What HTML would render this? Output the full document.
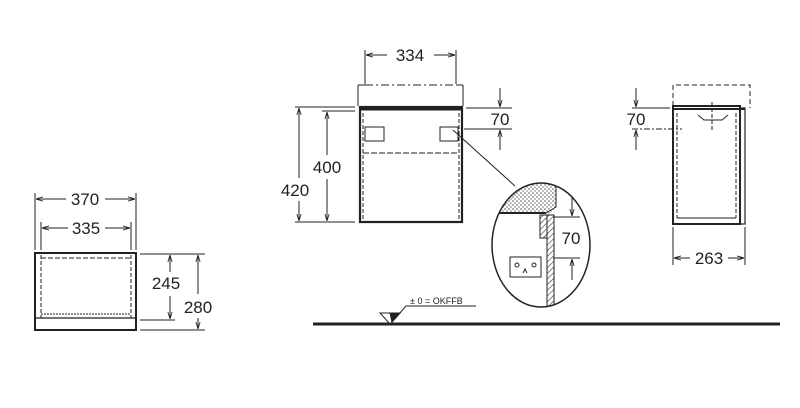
<!DOCTYPE html><html><head><style>body{margin:0;background:#fff}svg{display:block}text{font-family:"Liberation Sans",sans-serif;fill:#222}</style></head><body>
<svg width="800" height="408" viewBox="0 0 800 408" xmlns="http://www.w3.org/2000/svg">
<defs>
<marker id="a" viewBox="0 0 10 10" refX="10" refY="5" markerWidth="7" markerHeight="7" orient="auto-start-reverse"><path d="M0,2L10,5L0,8" fill="none" stroke="#222" stroke-width="1.2"/></marker>
<pattern id="dots" width="4" height="4" patternUnits="userSpaceOnUse"><rect width="4" height="4" fill="#fff"/><circle cx="1" cy="1" r="0.8" fill="#555"/><circle cx="3" cy="3" r="0.8" fill="#777"/></pattern>
<pattern id="hatch" width="4" height="4" patternUnits="userSpaceOnUse" patternTransform="rotate(45)"><rect width="4" height="4" fill="#fff"/><line x1="0" y1="0" x2="0" y2="4" stroke="#333" stroke-width="1.2"/></pattern>
<clipPath id="c"><ellipse cx="541" cy="245" rx="49" ry="62"/></clipPath>
</defs>
<g stroke="#222" fill="none" stroke-width="1">
<rect x="35" y="253" width="101" height="77" stroke-width="2"/>
<line x1="35" y1="318" x2="136" y2="318" stroke-width="1.2"/>
<line x1="41" y1="255" x2="41" y2="318" stroke-dasharray="4,2"/>
<line x1="131" y1="255" x2="131" y2="318" stroke-dasharray="4,2"/>
<line x1="41" y1="258" x2="131" y2="258" stroke-dasharray="5,2"/>
<line x1="41" y1="314" x2="131" y2="314" stroke-dasharray="2,1"/>
<line x1="35" y1="193" x2="35" y2="250"/><line x1="136" y1="193" x2="136" y2="250"/>
<line x1="41" y1="222" x2="41" y2="250"/><line x1="131" y1="222" x2="131" y2="250"/>
<line x1="36" y1="199" x2="66" y2="199" marker-start="url(#a)"/><line x1="105" y1="199" x2="135" y2="199" marker-end="url(#a)"/>
<line x1="42" y1="228" x2="68" y2="228" marker-start="url(#a)"/><line x1="105" y1="228" x2="130" y2="228" marker-end="url(#a)"/>
<line x1="140" y1="254" x2="205" y2="254"/><line x1="140" y1="320" x2="175" y2="320"/><line x1="140" y1="330" x2="205" y2="330"/>
<line x1="170" y1="255" x2="170" y2="272" marker-start="url(#a)"/><line x1="170" y1="296" x2="170" y2="319" marker-end="url(#a)"/>
<line x1="198" y1="255" x2="198" y2="294" marker-start="url(#a)"/><line x1="198" y1="318" x2="198" y2="329" marker-end="url(#a)"/>
<rect x="360" y="107" width="102" height="115" stroke-width="2.2"/>
<line x1="360" y1="109" x2="462" y2="109" stroke-width="3"/>
<line x1="365" y1="85" x2="457" y2="85" stroke-dasharray="8,3,2,3"/>
<line x1="358" y1="85" x2="358" y2="106"/><line x1="463" y1="85" x2="463" y2="106"/>
<line x1="358" y1="85" x2="366" y2="85"/><line x1="457" y1="85" x2="463" y2="85"/>
<line x1="365" y1="50" x2="365" y2="84"/><line x1="456" y1="50" x2="456" y2="84"/>
<line x1="366" y1="55" x2="387" y2="55" marker-start="url(#a)"/><line x1="434" y1="55" x2="455" y2="55" marker-end="url(#a)"/>
<line x1="363" y1="113" x2="363" y2="220" stroke-dasharray="4,2"/><line x1="459" y1="113" x2="459" y2="220" stroke-dasharray="4,2"/>
<line x1="363" y1="153" x2="459" y2="153" stroke-dasharray="6,2"/>
<rect x="365" y="127" width="19" height="14"/><rect x="440" y="127" width="18" height="14"/>
<line x1="453" y1="130" x2="515" y2="186"/>
<line x1="295" y1="107" x2="355" y2="107"/><line x1="322" y1="111" x2="355" y2="111"/><line x1="295" y1="222" x2="355" y2="222"/>
<line x1="299" y1="108" x2="299" y2="178" marker-start="url(#a)"/><line x1="299" y1="201" x2="299" y2="221" marker-end="url(#a)"/>
<line x1="327" y1="112" x2="327" y2="155" marker-start="url(#a)"/><line x1="327" y1="179" x2="327" y2="221" marker-end="url(#a)"/>
<line x1="466" y1="108" x2="512" y2="108"/><line x1="464" y1="129" x2="512" y2="129"/>
<line x1="500" y1="88" x2="500" y2="107" marker-end="url(#a)"/><line x1="500" y1="150" x2="500" y2="130" marker-end="url(#a)"/>
<g clip-path="url(#c)">
<path d="M488,182 L556,182 L556,208 L548,214 L488,214 Z" fill="url(#dots)" stroke="none"/>
<line x1="488" y1="213" x2="546" y2="213" stroke-width="2"/>
<polyline points="546,213 556,207 556,182"/>
<rect x="540" y="215" width="7" height="23" fill="url(#hatch)"/>
<rect x="547" y="215" width="7" height="95" fill="url(#hatch)"/>
<rect x="510" y="257" width="31" height="20"/>
<circle cx="517" cy="265" r="2"/><circle cx="534" cy="265" r="2"/><path d="M523,273 L525,269 L527,273"/>
<line x1="553" y1="217" x2="580" y2="217"/><line x1="553" y1="258" x2="580" y2="258"/>
<line x1="572" y1="195" x2="572" y2="216" marker-end="url(#a)"/><line x1="572" y1="280" x2="572" y2="259" marker-end="url(#a)"/>
</g>
<ellipse cx="541" cy="245" rx="49" ry="62" stroke-width="1.5"/>
<line x1="313" y1="324" x2="780" y2="324" stroke-width="3"/>
<path d="M380,313 L400,313 L390,324 Z" fill="#fff"/><path d="M390,313 L400,313 L392,322 Z" fill="#222"/>
<polyline points="392,322 406,306 476,306"/>
<rect x="673" y="106" width="67" height="118" stroke-width="2"/>
<rect x="740" y="108" width="5" height="116" stroke-width="1.2"/>
<line x1="673" y1="109" x2="745" y2="109" stroke-width="2"/>
<polyline points="673,106 673,85 750,85 750,108" stroke-dasharray="5,3"/>
<line x1="677" y1="113" x2="677" y2="218" stroke-dasharray="4,2"/><line x1="736" y1="113" x2="736" y2="218" stroke-dasharray="4,2"/>
<line x1="677" y1="218" x2="736" y2="218"/>
<path d="M698,115 L704,120 L722,120 L728,115" />
<line x1="712" y1="102" x2="712" y2="132" stroke-dasharray="4,2"/>
<line x1="632" y1="108" x2="670" y2="108"/><line x1="632" y1="129" x2="682" y2="129" stroke-dasharray="6,2,2,2"/>
<line x1="636" y1="88" x2="636" y2="107" marker-end="url(#a)"/><line x1="636" y1="150" x2="636" y2="130" marker-end="url(#a)"/>
<line x1="673" y1="227" x2="673" y2="265"/><line x1="745" y1="227" x2="745" y2="265"/>
<line x1="674" y1="258" x2="690" y2="258" marker-start="url(#a)"/><line x1="728" y1="258" x2="744" y2="258" marker-end="url(#a)"/>
</g>
<g font-size="17">
<text x="85" y="205" text-anchor="middle">370</text>
<text x="86" y="234" text-anchor="middle">335</text>
<text x="166" y="289" text-anchor="middle">245</text>
<text x="198" y="313" text-anchor="middle">280</text>
<text x="410" y="61" text-anchor="middle">334</text>
<text x="327" y="173" text-anchor="middle">400</text>
<text x="295" y="196" text-anchor="middle">420</text>
<text x="500" y="125" text-anchor="middle">70</text>
<text x="571" y="244" text-anchor="middle">70</text>
<text x="636" y="125" text-anchor="middle">70</text>
<text x="709" y="264" text-anchor="middle">263</text>
</g>
<text x="410" y="304" font-size="9">± 0 = OKFFB</text>
</svg></body></html>
